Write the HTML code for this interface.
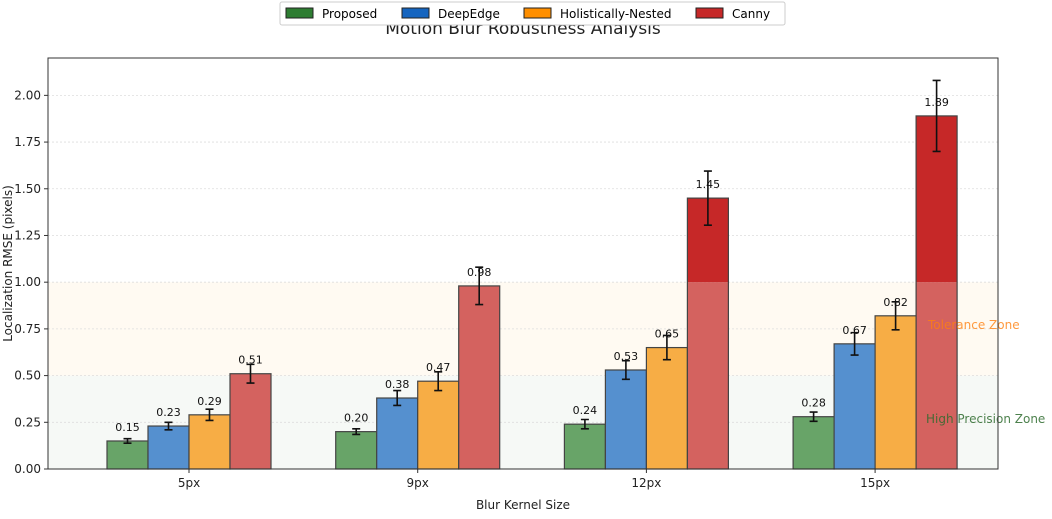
<!DOCTYPE html>
<html><head><meta charset="utf-8"><style>
body{margin:0;background:#fff;font-family:"Liberation Sans","DejaVu Sans",sans-serif}
</style></head><body>
<svg id="chart" width="1052" height="514" xmlns="http://www.w3.org/2000/svg" font-family="DejaVu Sans, Liberation Sans, sans-serif">
<text x="523" y="34" font-size="17" text-anchor="middle" fill="#222">Motion Blur Robustness Analysis</text>
<g id="plot"></g>
<g>
<rect x="280" y="2" width="505" height="23" fill="#fff" stroke="#ccc" rx="2"/>
<g><rect x="286" y="8" width="27" height="10" fill="#2e7d32" stroke="#222"/><text x="322" y="18" font-size="12">Proposed</text></g>
<g><rect x="402" y="8" width="27" height="10" fill="#1565c0" stroke="#222"/><text x="438" y="18" font-size="12">DeepEdge</text></g>
<g><rect x="524" y="8" width="27" height="10" fill="#ff8f00" stroke="#222"/><text x="560" y="18" font-size="12">Holistically-Nested</text></g>
<g><rect x="696" y="8" width="27" height="10" fill="#c62828" stroke="#222"/><text x="732" y="18" font-size="12">Canny</text></g>
</g>
</svg>
<script>
const categories=["5px","9px","12px","15px"];
const proposed=[0.15,0.20,0.24,0.28];
const deepedge=[0.23,0.38,0.53,0.67];
const hed=[0.29,0.47,0.65,0.82];
const canny=[0.51,0.98,1.45,1.89];
const proposedErr=[0.012,0.015,0.025,0.025];
const deepedgeErr=[0.02,0.04,0.05,0.06];
const hedErr=[0.03,0.05,0.065,0.075];
const cannyErr=[0.05,0.1,0.145,0.19];
const yTicks=[0,0.25,0.5,0.75,1.0,1.25,1.5,1.75,2.0];

const L=48,R=998,T=58,B=469,yMax=2.2,x0=189,dx=228.7,bw=41;
const ns="http://www.w3.org/2000/svg";
const g=document.getElementById('plot');
function y(v){return B-(v/yMax)*(B-T);}
function xc(i){return x0+i*dx;}
function mk(t,a,parent){const e=document.createElementNS(ns,t);for(const k in a)e.setAttribute(k,a[k]);(parent||g).appendChild(e);return e;}
function tx(s,a){const e=mk('text',a);e.textContent=s;return e;}

let z=mk('rect',{x:L,y:y(0.5),width:R-L,height:y(0)-y(0.5),fill:'#f6f9f6'});


z=mk('rect',{x:L,y:y(1.0),width:R-L,height:y(0.5)-y(1.0),fill:'#fffaf2'});


yTicks.forEach(v=>{
  const gl=mk('line',{x1:L,x2:R,y1:y(v),y2:y(v),stroke:'#ddd','stroke-dasharray':'2,2','stroke-width':0.8});
  
  
  mk('line',{x1:L-4,x2:L,y1:y(v),y2:y(v),stroke:'#333'});
  const t=tx(v.toFixed(2),{x:L-7,y:y(v)+4,'font-size':12,'text-anchor':'end',fill:'#222'});
  
  
});

const series=[
 {name:'proposed',vals:proposed,err:proposedErr,light:'#68a468',dark:'#2e7d32'},
 {name:'deepedge',vals:deepedge,err:deepedgeErr,light:'#5590cf',dark:'#1565c0'},
 {name:'hed',vals:hed,err:hedErr,light:'#f7ad45',dark:'#ff8f00'},
 {name:'canny',vals:canny,err:cannyErr,light:'#d4625f',dark:'#c62828'}];
series.forEach((s,si)=>{
  s.vals.forEach((v,i)=>{
    const x=xc(i)+(si-2)*bw;
    const b=mk('rect',{x:x,y:y(Math.min(v,1)),width:bw,height:y(0)-y(Math.min(v,1)),fill:s.light});
    
    
    if(v>1){mk('rect',{x:x,y:y(v),width:bw,height:y(1)-y(v),fill:s.dark});}
    mk('rect',{x:x,y:y(v),width:bw,height:y(0)-y(v),fill:'none',stroke:'#444','stroke-width':1.2});
  });
});
const zt1=tx('Tolerance Zone',{x:928,y:329,'font-size':12,fill:'#ff7f0e','fill-opacity':0.8});


const zt2=tx('High Precision Zone',{x:926,y:423,'font-size':12,fill:'#2e6b2e','fill-opacity':0.85});


series.forEach((s,si)=>{
  s.vals.forEach((v,i)=>{
    const x=xc(i)+(si-2)*bw;
    const cx=x+bw/2,e=s.err[i];
    const eb=mk('path',{d:`M${cx},${y(v-e)}V${y(v+e)}M${cx-4},${y(v-e)}H${cx+4}M${cx-4},${y(v+e)}H${cx+4}`,stroke:'#111','stroke-width':1.6,fill:'none'});
    
    
    const lb=tx(v.toFixed(2),{x:cx,y:y(v)-10,'font-size':11,'text-anchor':'middle',fill:'#111'});
    
    
  });
});
categories.forEach((c,i)=>{
  mk('line',{x1:xc(i),x2:xc(i),y1:B,y2:B+4,stroke:'#333'});
  const t=tx(c,{x:xc(i),y:B+18,'font-size':12,'text-anchor':'middle',fill:'#222'});
  
  
});
const fr=mk('rect',{x:L,y:T,width:R-L,height:B-T,fill:'none',stroke:'#333','stroke-width':1});


const xt=tx('Blur Kernel Size',{x:(L+R)/2,y:509,'font-size':12,'text-anchor':'middle',fill:'#222'});


const yt=tx('Localization RMSE (pixels)',{x:0,y:0,'font-size':12,'text-anchor':'middle',fill:'#222',transform:`translate(12,${(T+B)/2}) rotate(-90)`});


</script>
</body></html>
